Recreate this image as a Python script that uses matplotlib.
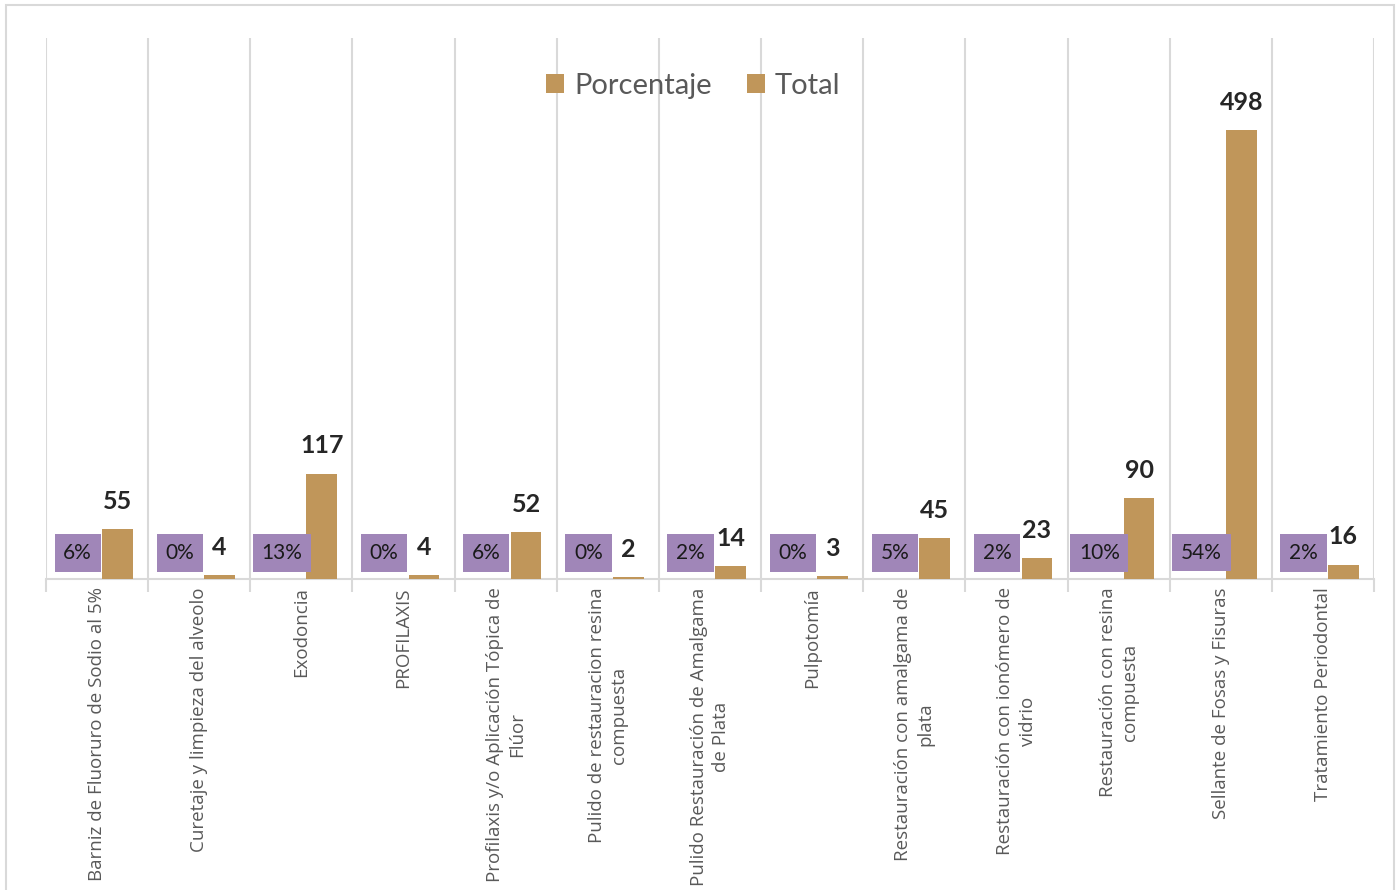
import matplotlib
matplotlib.use('Agg')
import matplotlib.pyplot as plt
from matplotlib.patches import Rectangle, Patch
from matplotlib.font_manager import FontProperties
import numpy as np

# Data
categorias = [
    "Barniz de Fluoruro de Sodio al 5%",
    "Curetaje y limpieza del alveolo",
    "Exodoncia",
    "PROFILAXIS",
    "Profilaxis y/o Aplicación Tópica de\nFlúor",
    "Pulido de restauracion resina\ncompuesta",
    "Pulido Restauración de Amalgama\nde Plata",
    "Pulpotomía",
    "Restauración con amalgama de\nplata",
    "Restauración con ionómero de\nvidrio",
    "Restauración con resina\ncompuesta",
    "Sellante de Fosas y Fisuras",
    "Tratamiento Periodontal",
]
porcentaje = [0.06, 0.00, 0.13, 0.00, 0.06, 0.00, 0.02, 0.00, 0.05, 0.02, 0.10, 0.54, 0.02]
total = [55, 4, 117, 4, 52, 2, 14, 3, 45, 23, 90, 498, 16]

# Colors
gold = '#C0965A'
purple = '#A086B8'
grid_gray = '#D9D9D9'
text_gray = '#595959'

fig = plt.figure(figsize=(13.98, 8.90), dpi=100)
ax = fig.add_axes([46/1398, 311/890, (1374-46)/1398, (579-38)/890])

x = np.arange(len(categorias))
w = 0.30
ax.bar(x - 0.19, porcentaje, width=w, color=gold, zorder=3)
ax.bar(x + 0.20, total, width=w, color=gold, zorder=3)

ax.set_xlim(-0.5, len(categorias) - 0.5)
ax.set_ylim(0, 600)

# Value labels
for xi, p, t in zip(x, porcentaje, total):
    ax.annotate(f"{p:.0%}", (xi - 0.19, p), xytext=(0, 18.7), textcoords='offset points',
                ha='center', va='center', fontsize=15, family='Lato', color='#1A1A1A',
                bbox=dict(boxstyle='square,pad=0.42', facecolor=purple, edgecolor='none'),
                zorder=5)
    ax.annotate(str(t), (xi + 0.20, t), xytext=(0, 20), textcoords='offset points',
                ha='center', va='center', fontsize=18, family='Lato', fontweight='bold',
                color='#262626', zorder=5)

# Axes styling
for s in ['left', 'right', 'top']:
    ax.spines[s].set_visible(False)
ax.spines['bottom'].set_color(grid_gray)
ax.spines['bottom'].set_linewidth(1.5)
ax.set_yticks([])
ax.set_xticks(x)
tick_font = FontProperties(family='Open Sans', size=13.5)
ax.set_xticklabels(categorias, rotation=90, ha='center', va='top', multialignment='center',
                   fontproperties=tick_font, color=text_gray, linespacing=1.3)
ax.tick_params(axis='x', which='major', length=0, pad=6)
ax.set_xticks(np.arange(-0.5, len(categorias)), minor=True)
ax.tick_params(axis='x', which='minor', length=9, color=grid_gray, width=1.5)
ax.grid(axis='x', which='minor', color=grid_gray, linewidth=1.5, zorder=0)

# Legend
handles = [Patch(facecolor=gold, label='Porcentaje'), Patch(facecolor=gold, label='Total')]
leg = fig.legend(handles=handles, loc='center', bbox_to_anchor=(693/1398, 1 - 86/890), ncol=2,
                 frameon=False, prop={'family': 'Lato', 'size': 21}, handlelength=0.62,
                 handleheight=0.62, handletextpad=0.35, columnspacing=1.2)
for t in leg.get_texts():
    t.set_color(text_gray)

# Chart border
fig.patches.append(Rectangle((6/1398, -0.02), (1394-6)/1398, 1.02 - 5/890,
                             transform=fig.transFigure, fill=False,
                             edgecolor=grid_gray, linewidth=1.5))

plt.savefig('out.png', dpi=100)
plt.close()
